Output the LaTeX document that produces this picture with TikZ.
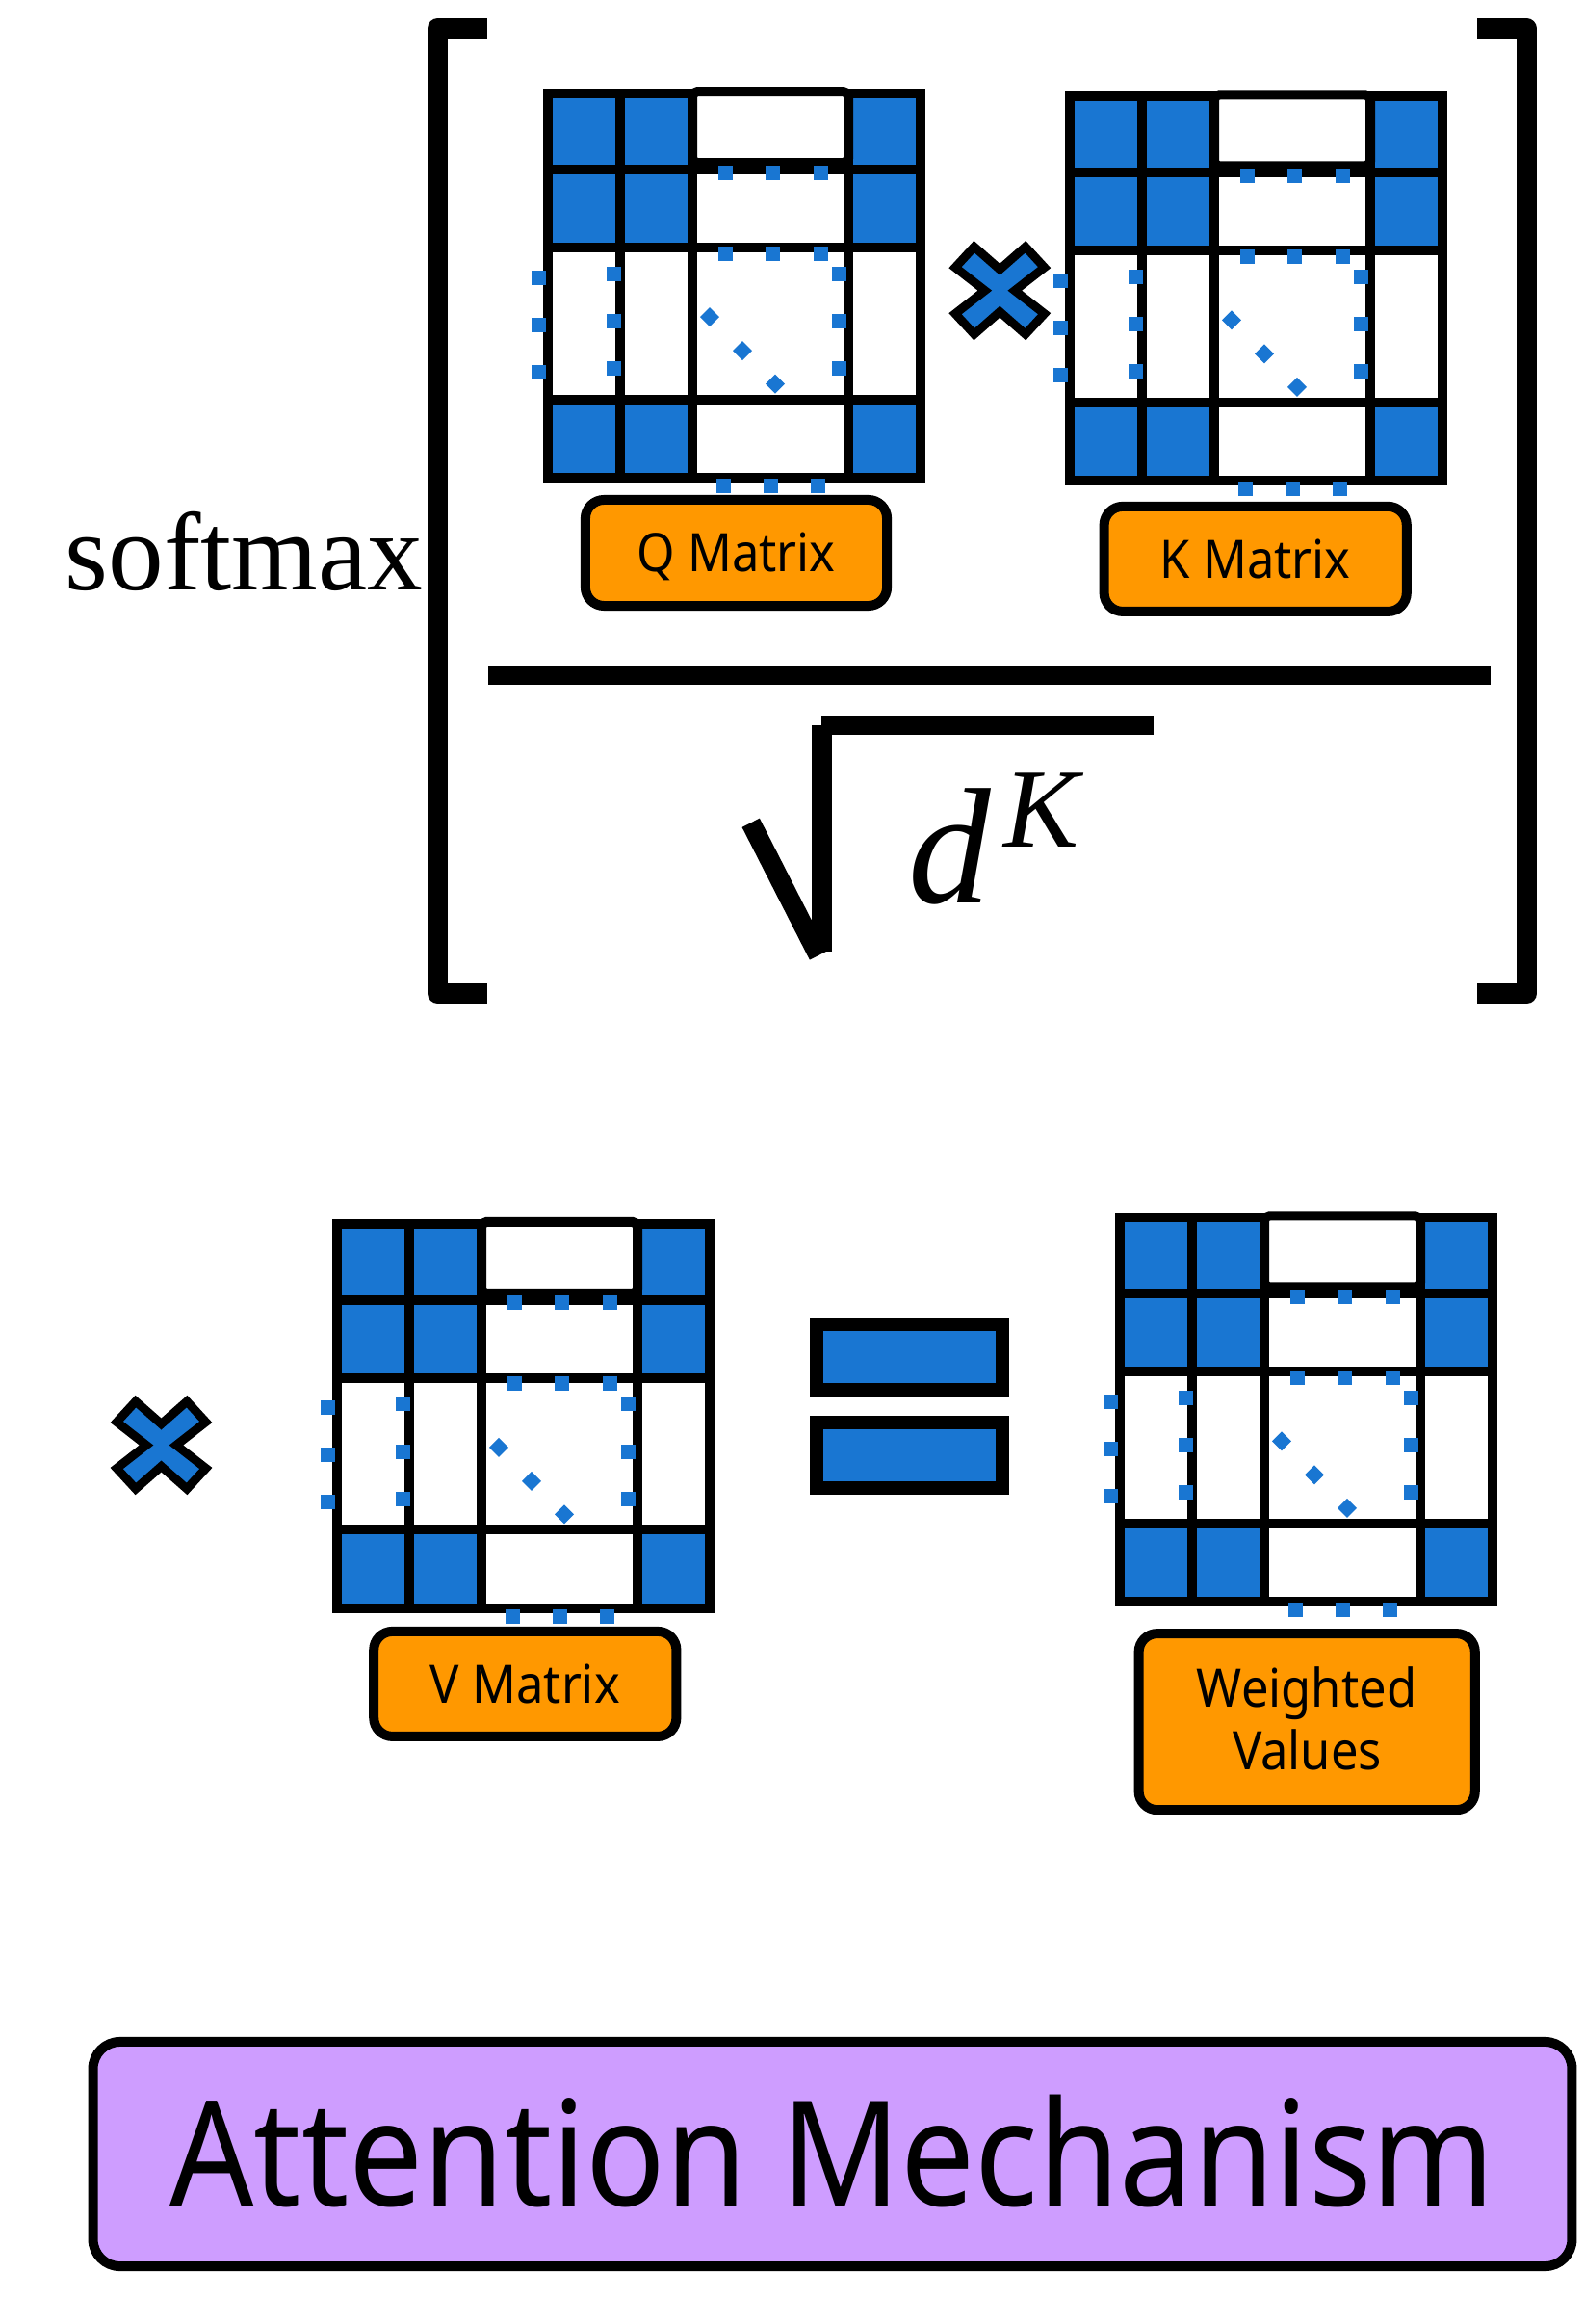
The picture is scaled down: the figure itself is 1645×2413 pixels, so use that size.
\documentclass[tikz,border=0pt]{standalone}
\usepackage{fontspec}
\setmainfont{Liberation Serif}
\newfontfamily\tagfont[FakeStretch=0.92]{Noto Sans}
\newfontfamily\headfont[FakeStretch=0.9]{Noto Sans}
\newlength\pxu
\setlength\pxu{0.28453pt}
\definecolor{cellblue}{HTML}{1976D2}
\definecolor{tagorange}{HTML}{FF9800}
\definecolor{headpurple}{HTML}{CE9DFF}

\tikzset{
  gridline/.style={draw=black, line width=10*\pxu, line join=miter},
  bluecell/.style={gridline, fill=cellblue},
  whitecell/.style={gridline, fill=white},
  dotmark/.style={fill=cellblue},
  signshape/.style={draw=black, fill=cellblue, line width=9*\pxu, line join=miter},
  eqbar/.style={draw=black, fill=cellblue, line width=14*\pxu, line join=miter},
  tagbox/.style={draw=black, fill=tagorange, line width=10*\pxu, rounded corners=5.5pt,
    inner sep=0pt, font=\tagfont\fontsize{15.66pt}{18.55pt}\selectfont,
    text height=11.18pt, text depth=0pt},
  tagtext/.style={inner sep=0pt, font=\tagfont\fontsize{15.66pt}{18.55pt}\selectfont},
  headbox/.style={draw=black, fill=headpurple, line width=10*\pxu, rounded corners=8pt,
    inner sep=0pt, font=\headfont\fontsize{43.2pt}{50pt}\selectfont,
    text height=30.84pt, text depth=0pt},
  bracketline/.style={line width=21*\pxu, line join=round},
  radical/.style={line width=20.5*\pxu},
}

% small square and diamond marks standing for elided entries
\newcommand\sqdot[1]{\fill[dotmark] #1 ++(-7.5,-7.5) rectangle ++(15,15);}
\newcommand\dmdot[1]{\fill[dotmark] #1 +(-10,0) -- +(0,-10) -- +(10,0) -- +(0,10) -- cycle;}

% a 4x4 matrix glyph with elision dots; #1 = top-left corner
\newcommand\attnmatrix[1]{%
  \begin{scope}[shift={#1}]
    \foreach \xa/\xb in {0/75,75/150,312/387}{%
      \foreach \ya/\yb in {0/79,79/160,317.5/399}{%
        \draw[bluecell] (\xa,\ya) rectangle (\xb,\yb);}}
    \draw[whitecell] (150,79) rectangle (312,160);
    \draw[whitecell] (150,317.5) rectangle (312,399);
    \foreach \xa/\xb in {0/75,75/150,150/312,312/387}{%
      \draw[whitecell] (\xa,160) rectangle (\xb,317.5);}
    \draw[whitecell, rounded corners=1.5pt] (150,-2) rectangle (312,72);
    \foreach \dx in {184,233,283}{\sqdot{(\dx,82)} \sqdot{(\dx,166)}}
    \foreach \dy in {187,236.5,285.5}{\sqdot{(302,\dy)} \sqdot{(68,\dy)}}
    \foreach \dy in {191,240,289}{\sqdot{(-10,\dy)}}
    \foreach \dx in {182,231,280}{\sqdot{(\dx,407.5)}}
    \dmdot{(168,232)} \dmdot{(202,267)} \dmdot{(236,301.5)}
  \end{scope}}

% heavy multiplication sign; #1 = centre
\newcommand\timesmark[1]{%
  \draw[signshape, shift={#1}] (-26.6,-45.4) -- (0,-22) -- (26.6,-45.4) -- (46.3,-24)
    -- (15.5,0) -- (46.3,24) -- (26.6,45.4) -- (0,22) -- (-26.6,45.4) -- (-46.3,24)
    -- (-15.5,0) -- (-46.3,-24) -- cycle;}

\begin{document}
\begin{tikzpicture}[x=0.01cm, y=-0.01cm]
\useasboundingbox (0,0) rectangle (1645,2413);
\fill[white] (0,0) rectangle (1645,2413);

% softmax of the scaled product
\node[anchor=base west, inner sep=0pt, font=\fontsize{32.8pt}{38pt}\selectfont] (softmax) at (67,613) {softmax};
\draw[bracketline] (505.7,29.5) -- (454.5,29.5) -- (454.5,1031.5) -- (505.7,1031.5);
\draw[bracketline] (1534,30) -- (1585.6,30) -- (1585.6,1031.5) -- (1534,1031.5);

\attnmatrix{(569,97.1)}
\attnmatrix{(1111,100.4)}
\timesmark{(1038.3,301.7)}

\node[tagbox, minimum width=313*\pxu, minimum height=110*\pxu] (qlabel) at (764.5,574) {Q Matrix};
\node[tagbox, minimum width=314*\pxu, minimum height=109*\pxu] (klabel) at (1303.7,580.4) {K Matrix};

% fraction bar and square root of d^K
\draw[line width=20*\pxu] (507,701) -- (1548,701);
\draw[radical] (779.7,854.3) -- (850,992);
\draw[radical] (853.7,988) -- (853.7,753.3);
\draw[radical] (853.3,753) -- (1198.3,753);
\node[anchor=base west, inner sep=0pt, font=\fontsize{48.7pt}{58pt}\selectfont\itshape] (dsym) at (943,937) {d};
\node[anchor=base west, inner sep=0pt, font=\fontsize{33.3pt}{40pt}\selectfont\itshape] (ksym) at (1042,879.3) {K};

% times V equals weighted values
\timesmark{(167.5,1500.5)}
\attnmatrix{(350,1270.9)}
\node[tagbox, minimum width=314*\pxu, minimum height=109*\pxu] (vlabel) at (545.3,1748.4) {V Matrix};

\draw[eqbar] (848,1375.3) rectangle (1040.5,1443);
\draw[eqbar] (848,1477) rectangle (1040.5,1544.7);

\attnmatrix{(1163,1264.4)}
\node[tagbox, minimum width=349*\pxu, minimum height=183*\pxu] (wlabel) at (1357.2,1787.6) {};
\node[tagtext, anchor=base] (wline1) at (1357,1772.4) {Weighted};
\node[tagtext, anchor=base] (wline2) at (1357.5,1837.6) {Values};

% title
\node[headbox, minimum width=1535*\pxu, minimum height=233*\pxu] (title) at (864.5,2236.5) {Attention Mechanism};
\end{tikzpicture}
\end{document}
